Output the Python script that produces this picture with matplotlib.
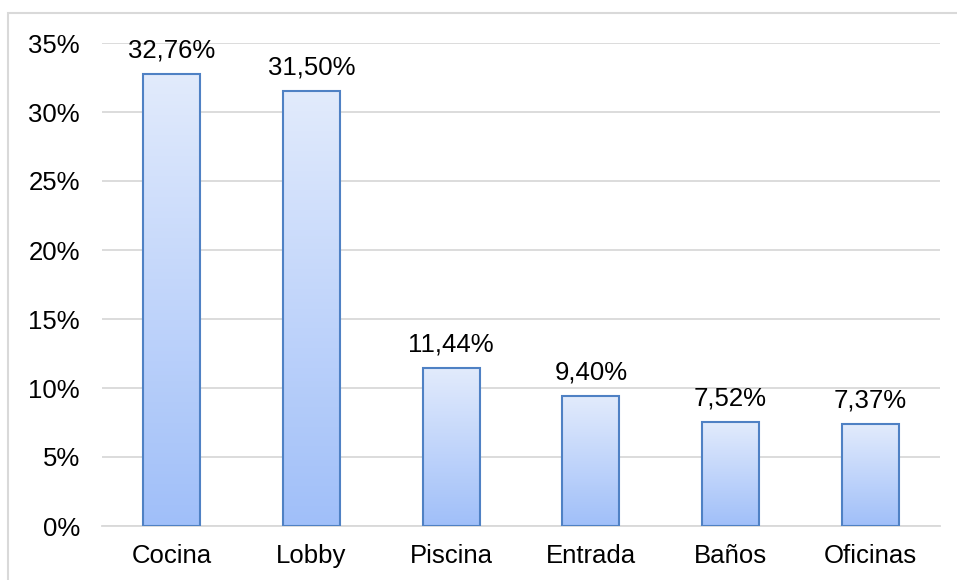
import matplotlib
matplotlib.use("Agg")
import matplotlib.pyplot as plt
import numpy as np
from matplotlib.colors import LinearSegmentedColormap
from matplotlib.patches import Rectangle

plt.rcParams['font.family'] = ['Liberation Sans', 'DejaVu Sans']

# data
categorias = ["Cocina", "Lobby", "Piscina", "Entrada", "Baños", "Oficinas"]
valores = [32.76, 31.50, 11.44, 9.40, 7.52, 7.37]
etiquetas = ["32,76%", "31,50%", "11,44%", "9,40%", "7,52%", "7,37%"]
yticks = [0, 5, 10, 15, 20, 25, 30, 35]

fig = plt.figure(figsize=(9.57, 5.8), dpi=100)
ax = fig.add_axes([102/957, 1 - 526/580, (940 - 102)/957, (526 - 43)/580])

# outer chart border
fig.patches.append(Rectangle((8/957, -0.1), 1.2, 1 - 13/580 + 0.1, transform=fig.transFigure,
                             fill=False, edgecolor="#d9d9d9", linewidth=1.5))

grad = LinearSegmentedColormap.from_list("g", ["#a0bff9", "#e2ebfc"])
x = np.arange(len(categorias))
bars = ax.bar(x, valores, width=0.41, facecolor="none", edgecolor="#4f81c4",
              linewidth=1.5, zorder=3)
for b in bars:
    x0, w, h = b.get_x(), b.get_width(), b.get_height()
    im = ax.imshow(np.linspace(0, 1, 256).reshape(-1, 1), cmap=grad, origin="lower",
                   extent=[x0, x0 + w, 0, h], aspect="auto", zorder=2)
    im.set_clip_path(b)

for xi, v, t in zip(x, valores, etiquetas):
    ax.annotate(t, (xi, v), xytext=(0, 8.5), textcoords="offset points",
                ha="center", va="bottom", fontsize=18.5, color="black")

ax.set_xlim(-0.5, len(categorias) - 0.5)
ax.set_ylim(0, 35)
ax.set_yticks(yticks)
ax.set_yticklabels([f"{t}%" for t in yticks])
ax.set_xticks(x)
ax.set_xticklabels(categorias)
ax.tick_params(axis="both", length=0, labelsize=18.5)
ax.tick_params(axis="y", pad=16)
ax.tick_params(axis="x", pad=13)
ax.grid(axis="y", color="#d9d9d9", linewidth=1.3, zorder=0)
ax.set_axisbelow(True)
for s in ["top", "right", "left"]:
    ax.spines[s].set_visible(False)
ax.spines["bottom"].set_color("#d9d9d9")
ax.spines["bottom"].set_linewidth(1.3)

fig.savefig("out.png", dpi=100)
